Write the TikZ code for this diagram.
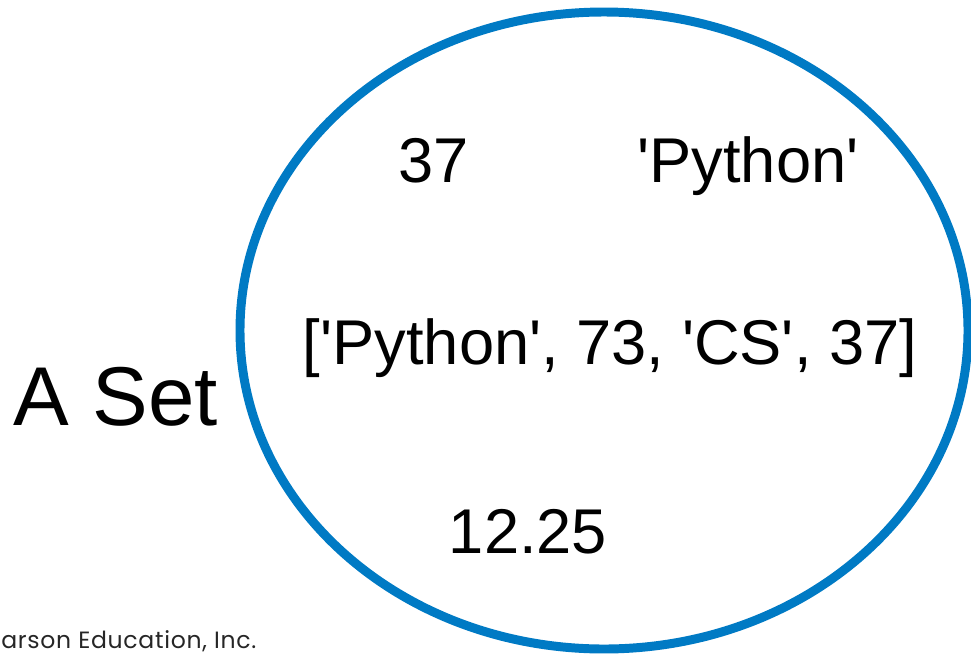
\documentclass[tikz,border=0pt]{standalone}
\usepackage{fontspec}
\setmainfont{Liberation Sans}[Ligatures=TeXOff]
\newfontfamily\footfont{Poppins}[LetterSpace=3]
\usepackage{xcolor}
\usepackage{tikz}
\definecolor{setblue}{RGB}{0,122,196}

\begin{document}
\begin{tikzpicture}[x=0.02cm, y=-0.02cm,
  elem/.style={inner sep=0pt, anchor=base, font=\fontsize{36}{40}\selectfont},
  setlabel/.style={inner sep=0pt, anchor=base, font=\fontsize{47.5}{52}\selectfont}]
\useasboundingbox (0,0) rectangle (971,653);
% the set itself
\draw[setblue, line width=5.1pt] (604,330.5) ellipse (364 and 318.5);
% its elements
\node[elem] (num) at (434,182) {37};
\node[elem] (str) at (748,182) {'Python'};
\node[elem] (lst) at (610,364) {['Python', 73, 'CS', 37]};
\node[elem] (flt) at (528,553) {12.25};
% label and footer
\node[setlabel] (name) at (116,425) {A Set};
\node[inner sep=0pt, anchor=base west, font=\footfont\fontsize{13.4}{15}\selectfont,
  text=black!85] (foot) at (1,648) {arson Education, Inc.};
\end{tikzpicture}
\end{document}
